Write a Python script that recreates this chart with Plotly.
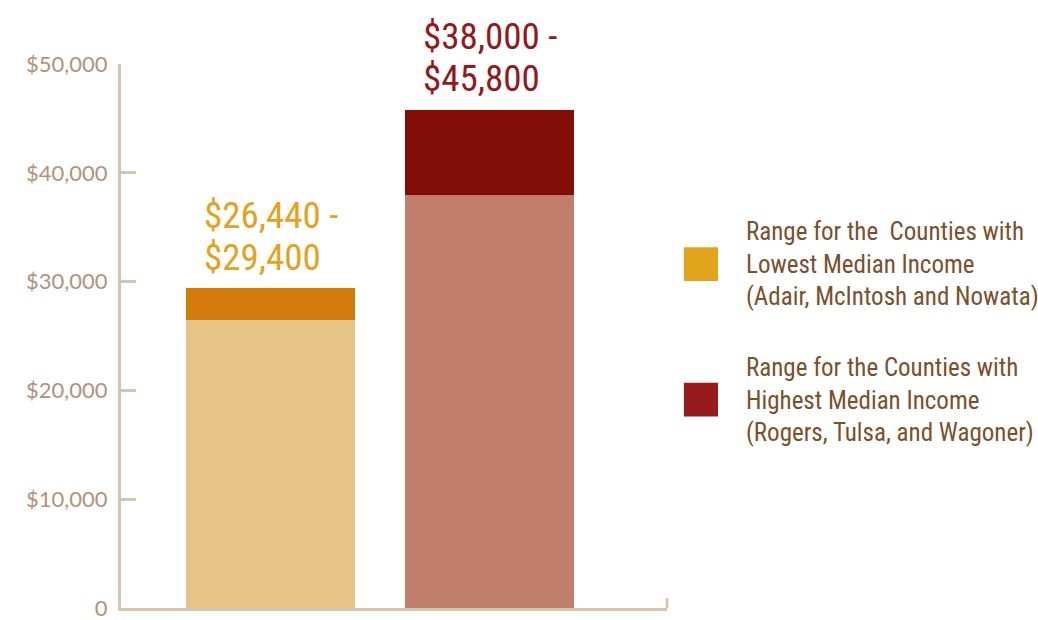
import plotly.graph_objects as go

# Median household income ranges (USD)
groups = ["Lowest", "Highest"]
range_low = [26440, 38000]
range_high = [29400, 45800]
range_labels = [["$26,440 -", "$29,400"], ["$38,000 -", "$45,800"]]
legend_texts = [
    "Range for the  Counties with<br>Lowest Median Income<br>(Adair, McIntosh and Nowata)",
    "Range for the Counties with<br>Highest Median Income<br>(Rogers, Tulsa, and Wagoner)",
]
y_ticks = [0, 10000, 20000, 30000, 40000, 50000]
y_tick_labels = ["0", "$10,000", "$20,000", "$30,000", "$40,000", "$50,000"]

base_colors = ["#e6c487", "#c27e6c"]
top_colors = ["#d47b0d", "#820c06"]
label_colors = ["#e2a321", "#931a1c"]
swatch_colors = ["#e2a41c", "#971a1c"]
axis_color = "#d8c5ae"
tick_font_color = "#b0937a"
legend_font_color = "#7b502b"
cond_font = "Roboto Condensed, DejaVu Sans Condensed, sans-serif"

xs = [0, 1]
bar_w = 0.772

fig = go.Figure()
fig.add_trace(go.Bar(
    x=xs, y=range_low, width=bar_w,
    marker=dict(color=base_colors, line=dict(width=0)),
    showlegend=False, hoverinfo="skip",
))
fig.add_trace(go.Bar(
    x=xs, y=[h - l for h, l in zip(range_high, range_low)], width=bar_w,
    marker=dict(color=top_colors, line=dict(width=0)),
    showlegend=False, hoverinfo="skip",
))

# Two-line range labels above each bar
for x, top, lines, col in zip(xs, range_high, range_labels, label_colors):
    for line, shift in zip(lines, [73, 31]):
        fig.add_annotation(
            x=x - bar_w / 2, y=top, xref="x", yref="y", text=line, showarrow=False,
            xanchor="left", yanchor="middle", xshift=16, yshift=shift,
            font=dict(family=cond_font, size=37, color=col),
        )

# Legend swatches and texts
swatch_y = [0.632, 0.383]  # paper centers
for yc, col, txt in zip(swatch_y, swatch_colors, legend_texts):
    fig.add_shape(
        type="rect", xref="paper", yref="paper",
        x0=1.031, x1=1.0934, y0=yc - 0.031, y1=yc + 0.031,
        fillcolor=col, line=dict(width=0),
    )
    fig.add_annotation(
        x=1.141, y=yc, xref="paper", yref="paper", text=txt, showarrow=False,
        xanchor="left", yanchor="middle", align="left",
        font=dict(family=cond_font, size=25, color=legend_font_color),
    )

# Small upward tick at the right end of the baseline
fig.add_shape(
    type="line", xref="paper", yref="paper", x0=1, x1=1, y0=0, y1=0.018,
    line=dict(color=axis_color, width=3),
)

fig.update_layout(
    width=1038, height=620,
    margin=dict(l=121, r=371, t=64, b=12, autoexpand=False),
    paper_bgcolor="white", plot_bgcolor="white",
    barmode="stack", bargap=0,
    showlegend=False,
    xaxis=dict(
        range=[-0.683, 1.81], showgrid=False, zeroline=False,
        showticklabels=False, ticks="", showline=True,
        linecolor=axis_color, linewidth=3, fixedrange=True, automargin=False,
    ),
    yaxis=dict(
        range=[0, 50000], tickvals=y_ticks, ticktext=y_tick_labels,
        showgrid=False, zeroline=False, showline=True,
        linecolor=axis_color, linewidth=3,
        ticks="inside", ticklen=15, tickwidth=3, tickcolor=axis_color,
        ticklabelstandoff=6, ticklabeloverflow="allow",
        tickfont=dict(family="Lato, sans-serif", size=22, color=tick_font_color),
        fixedrange=True, automargin=False,
    ),
)

fig.write_html("out.html")
